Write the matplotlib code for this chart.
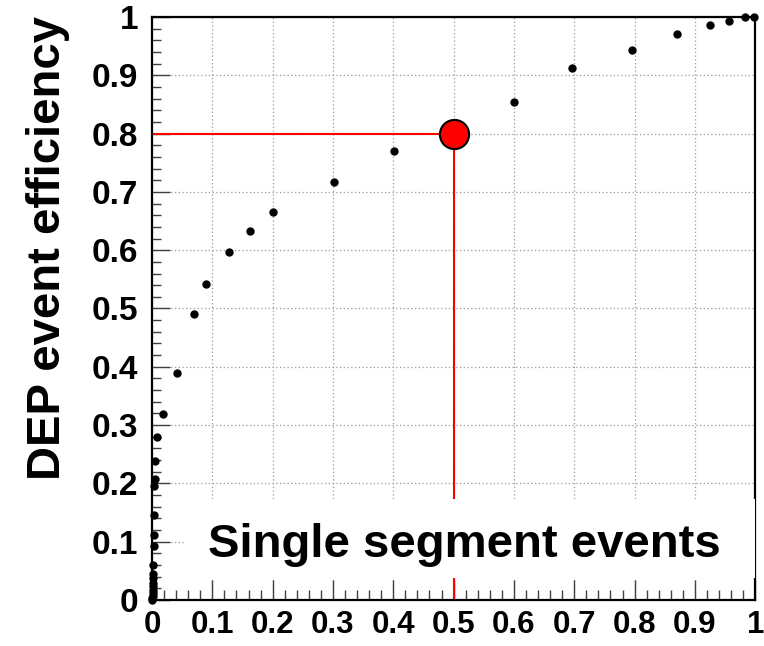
# DEP event efficiency vs single segment events
import matplotlib
matplotlib.use('Agg')
import matplotlib.pyplot as plt
import matplotlib.patches as patches
from matplotlib.ticker import MultipleLocator

# Data
single_frac = [0.0, 0.0005, 0.0008, 0.001, 0.0012, 0.0014, 0.0016, 0.0018,
               0.002, 0.0022, 0.0025, 0.003, 0.0035, 0.004, 0.0045, 0.005,
               0.009, 0.018, 0.041, 0.069, 0.089, 0.127, 0.163, 0.201,
               0.301, 0.401, 0.600, 0.697, 0.796, 0.871, 0.925, 0.957,
               0.983, 0.998]
dep_eff = [0.0, 0.003, 0.007, 0.012, 0.018, 0.024, 0.030, 0.038,
           0.045, 0.060, 0.092, 0.111, 0.146, 0.196, 0.208, 0.238,
           0.279, 0.319, 0.390, 0.490, 0.542, 0.597, 0.633, 0.665,
           0.717, 0.770, 0.855, 0.912, 0.944, 0.971, 0.987, 0.993,
           1.0, 1.0]

# Chosen working point
wp_x = 0.5
wp_y = 0.8

ticks = [0, 0.1, 0.2, 0.3, 0.4, 0.5, 0.6, 0.7, 0.8, 0.9, 1.0]
tick_labels = ['0', '0.1', '0.2', '0.3', '0.4', '0.5', '0.6', '0.7', '0.8', '0.9', '1']

plt.rcParams['font.family'] = ['Liberation Sans', 'DejaVu Sans']
plt.rcParams['font.weight'] = 'bold'

fig = plt.figure(figsize=(7.64, 6.46), dpi=100)
ax = fig.add_axes([0.199, 0.0712, 0.7895, 0.9025])
ax.set_xlim(0, 1)
ax.set_ylim(0, 1)

# grid
ax.set_xticks(ticks)
ax.set_yticks(ticks)
ax.set_xticklabels(tick_labels)
ax.set_yticklabels(tick_labels)
ax.xaxis.set_minor_locator(MultipleLocator(0.02))
ax.yaxis.set_minor_locator(MultipleLocator(0.02))
ax.grid(True, which='major', color='0.6', linestyle=(0, (1, 2)), linewidth=0.9, zorder=0)
ax.set_axisbelow(True)

for s in ax.spines.values():
    s.set_linewidth(1.6)

ax.tick_params(axis='both', which='both', direction='in', top=False, right=False,
               width=1.0, color='0.25')
ax.tick_params(axis='y', which='both', pad=10, labelsize=24)
ax.tick_params(axis='x', which='both', pad=7, labelsize=22.5)
ax.tick_params(axis='y', which='major', length=13)
ax.tick_params(axis='y', which='minor', length=6.5)
ax.tick_params(axis='x', which='major', length=14.5)
ax.tick_params(axis='x', which='minor', length=7)
for lab in ax.get_xticklabels() + ax.get_yticklabels():
    lab.set_fontweight('bold')

# red guide lines to the working point
ax.plot([0, wp_x], [wp_y, wp_y], color='red', lw=1.5, zorder=2)
ax.plot([wp_x, wp_x], [0, wp_y], color='red', lw=1.5, zorder=2)

# white label box
box = patches.Rectangle((0.057, 0.038), 0.943, 0.135, transform=ax.transAxes,
                        fc='white', ec='none', zorder=3)
ax.add_patch(box)
ax.text(0.518, 0.073, 'Single segment events', transform=ax.transAxes,
        ha='center', va='baseline', fontsize=34, fontweight='bold', zorder=4)

# efficiency points
ax.plot(single_frac, dep_eff, 'o', color='black', ms=5, zorder=5, clip_on=False)
ax.plot([wp_x], [wp_y], 'o', color='red', mec='black', mew=1.5, ms=21, zorder=6)

fig.text(60 / 764, 1 - 248 / 646, 'DEP event efficiency', rotation=90,
         rotation_mode='anchor', ha='center', va='baseline',
         fontsize=34, fontweight='bold')

fig.savefig('out.png', dpi=100)
